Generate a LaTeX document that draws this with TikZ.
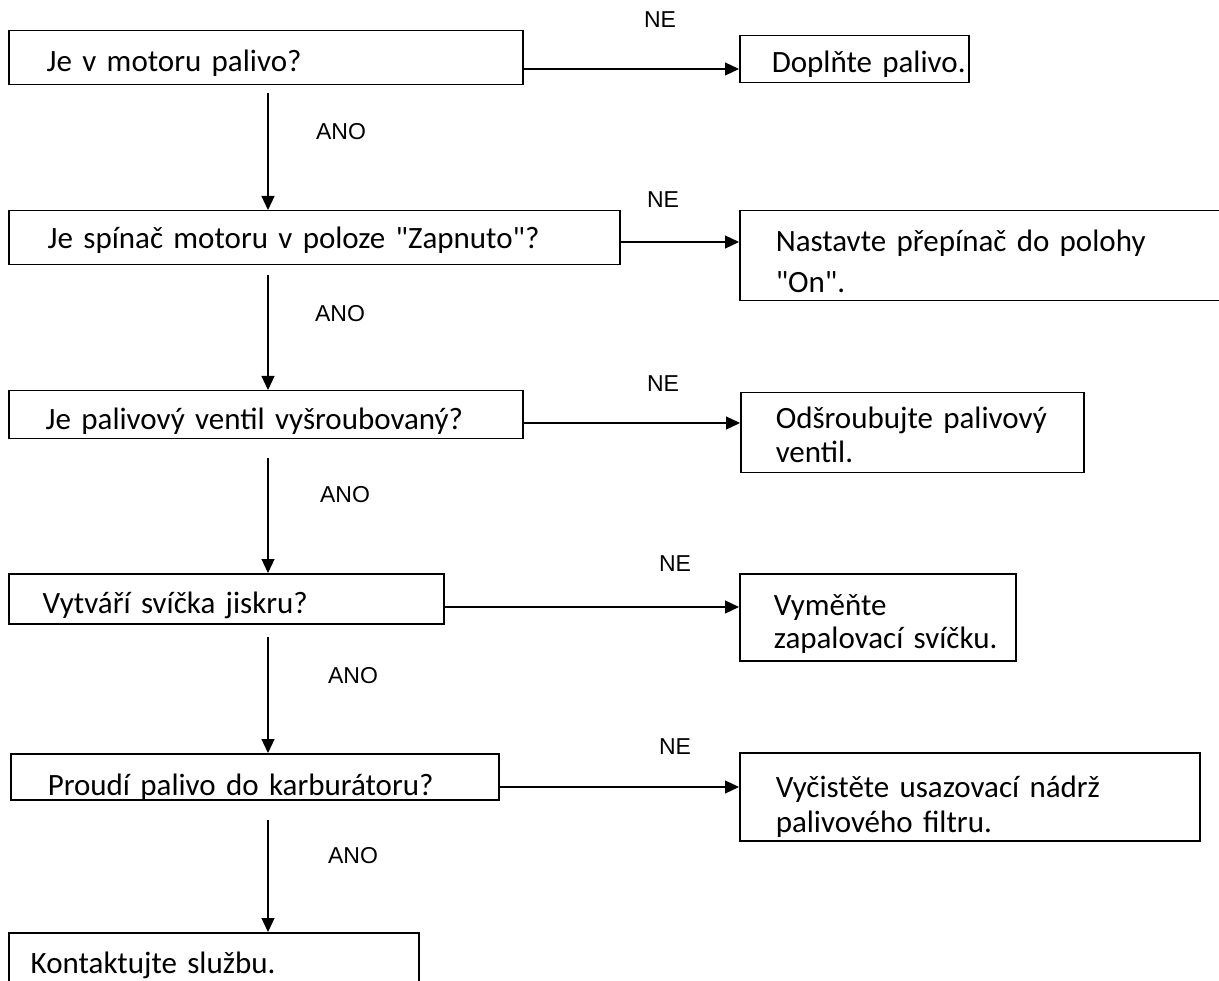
\documentclass[tikz,border=0pt]{standalone}
\usepackage{fontspec}
\setmainfont{Carlito}[Ligatures=TeXOff]
\newfontfamily\labfont{Liberation Sans}
\usetikzlibrary{arrows.meta}
\begin{document}
\begin{tikzpicture}[x=1pt,y=-1pt,
  box/.style={draw, line width=1.5pt, rectangle, anchor=north west, inner sep=0pt,
    font=\fontsize{31}{37}\selectfont,
    execute at begin node={\leftskip=#1pt\rightskip=-120pt plus 1fil}},
  geo/.style n args={2}{minimum width=#1pt, text width=#1pt, minimum height=#2pt},
  tb/.style={text height=#1pt, text depth=0pt},
  td/.style={text height=0pt, text depth=#1pt},
  lab/.style={font=\labfont\fontsize{23}{27}\selectfont, inner sep=0pt},
  arr/.style={line width=1.2pt, -{Triangle[length=14pt,width=13pt]}}
]
\fill[white] (0,0) rectangle (1219,981);
\useasboundingbox (0,0) rectangle (1219,981);

% boxes
\node[box=38, geo={514}{54}, tb=28] (q1) at (8,30) {Je v motoru palivo?};
\node[box=32, geo={229}{47}, tb=27] (a1) at (739,35) {Doplňte palivo.};
\node[box=39, geo={611}{54}, tb=22] (q2) at (8,210) {Je spínač motoru v poloze "Zapnuto"?};
\node[box=36, geo={491}{90}, td=8] (a2) at (739,210) {Nastavte přepínač do polohy\\[4pt]"On".};
\node[box=37, geo={514}{48}, tb=30] (q3) at (8,390) {Je palivový ventil vyšroubovaný?};
\node[box=35, geo={343}{80}, td=9] (a3) at (740,392) {Odšroubujte palivový\\[-3pt]ventil.};
\node[box=34, geo={435}{50}, tb=30] (q4) at (8,573) {Vytváří svíčka jiskru?};
\node[box=34, geo={276}{87}, td=3] (a4) at (739,573) {Vyměňte\\[-4pt]zapalovací svíčku.};
\node[box=37, geo={488}{46}, tb=38] (q5) at (10,753) {Proudí palivo do karburátoru?};
\node[box=36, geo={460}{88}, tb=2] (a5) at (739,752) {Vyčistěte usazovací nádrž\\[-2pt]palivového filtru.};
\node[box=22, geo={410}{68}, tb=14] (k) at (8,932) {Kontaktujte službu.};

% NO branches
\draw[arr] (q1.east |- 0,69) -- (a1.west |- 0,69);
\draw[arr] (q2.east |- 0,242) -- (a2.west |- 0,242);
\draw[arr] (q3.east |- 0,423) -- (a3.west |- 0,423);
\draw[arr] (q4.east |- 0,607) -- (a4.west |- 0,607);
\draw[arr] (q5.east |- 0,787) -- (a5.west |- 0,787);

% YES branches
\coordinate (v1) at (268,93);
\coordinate (v2) at (268,275);
\coordinate (v3) at (268,458);
\coordinate (v4) at (268,637);
\coordinate (v5) at (268,820);
\draw[arr] (v1) -- (v1 |- q2.north);
\draw[arr] (v2) -- (v2 |- q3.north);
\draw[arr] (v3) -- (v3 |- q4.north);
\draw[arr] (v4) -- (v4 |- q5.north);
\draw[arr] (v5) -- (v5 |- k.north);

% labels
\node[lab] (ne1) at (660,20) {NE};
\node[lab] (ne2) at (663,200) {NE};
\node[lab] (ne3) at (663,384) {NE};
\node[lab] (ne4) at (675,564) {NE};
\node[lab] (ne5) at (675,747) {NE};
\node[lab] (ano1) at (341,132) {ANO};
\node[lab] (ano2) at (340,314) {ANO};
\node[lab] (ano3) at (345,495) {ANO};
\node[lab] (ano4) at (353,676) {ANO};
\node[lab] (ano5) at (353,856) {ANO};
\end{tikzpicture}
\end{document}
